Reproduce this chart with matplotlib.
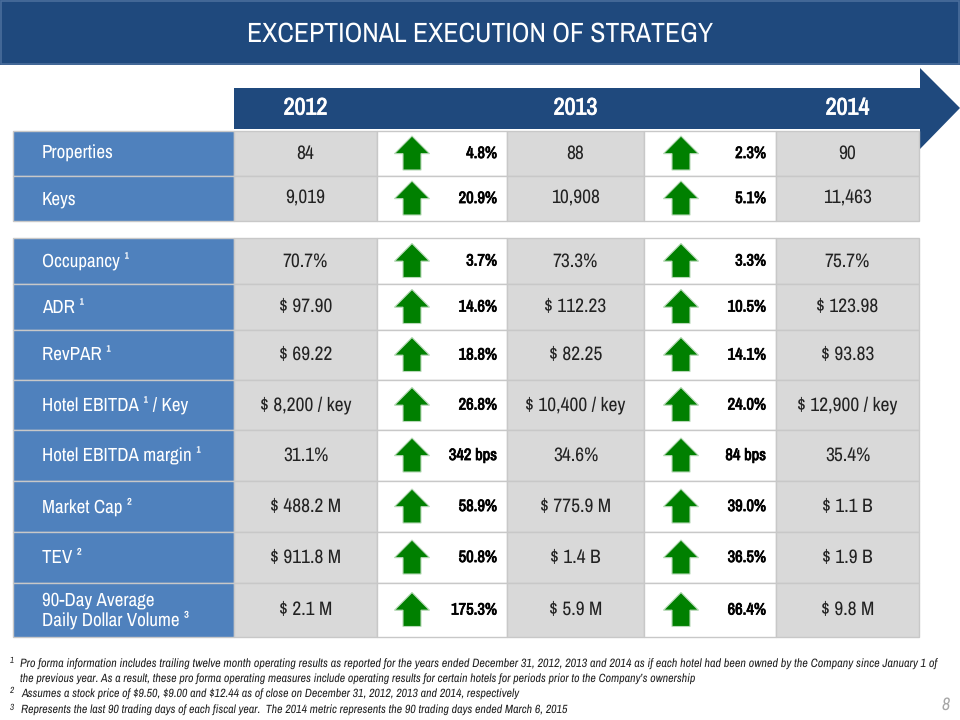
import matplotlib
matplotlib.use("Agg")
import matplotlib.pyplot as plt
import matplotlib.patheffects as pe
from matplotlib import font_manager
from matplotlib.patches import Rectangle, Polygon

names = {f.name for f in font_manager.fontManager.ttflist}
has_narrow = "Archivo Narrow" in names
scale = 1.0 if has_narrow else 0.82
plt.rcParams['font.family'] = ['Archivo Narrow', 'Liberation Sans', 'DejaVu Sans'] if has_narrow else ['Liberation Sans', 'DejaVu Sans']
plt.rcParams['text.hinting'] = 'no_hinting'
plt.rcParams['text.hinting_factor'] = 1

title = "EXCEPTIONAL EXECUTION OF STRATEGY"
years = ["2012", "2013", "2014"]
labels = ["Properties", "Keys", "Occupancy ¹", "ADR ¹", "RevPAR ¹", "Hotel EBITDA ¹ / Key",
          "Hotel EBITDA margin ¹", "Market Cap ²", "TEV ²", "90-Day Average\nDaily Dollar Volume ³"]
v2012 = ["84", "9,019", "70.7%", "$ 97.90", "$ 69.22", "$ 8,200 / key", "31.1%", "$ 488.2 M", "$ 911.8 M", "$ 2.1 M"]
v2013 = ["88", "10,908", "73.3%", "$ 112.23", "$ 82.25", "$ 10,400 / key", "34.6%", "$ 775.9 M", "$ 1.4 B", "$ 5.9 M"]
v2014 = ["90", "11,463", "75.7%", "$ 123.98", "$ 93.83", "$ 12,900 / key", "35.4%", "$ 1.1 B", "$ 1.9 B", "$ 9.8 M"]
chg_13 = ["4.8%", "20.9%", "3.7%", "14.6%", "18.8%", "26.8%", "342 bps", "58.9%", "50.8%", "175.3%"]
chg_14 = ["2.3%", "5.1%", "3.3%", "10.5%", "14.1%", "24.0%", "84 bps", "39.0%", "36.5%", "66.4%"]
notes = [
    ("1", "Pro forma information includes trailing twelve month operating results as reported for the years ended December 31, 2012, 2013 and 2014 as if each hotel had been owned by the Company since January 1 of"),
    ("", "the previous year. As a result, these pro forma operating measures include operating results for certain hotels for periods prior to the Company’s ownership"),
    ("2", "Assumes a stock price of $9.50, $9.00 and $12.44 as of close on December 31, 2012, 2013 and 2014, respectively"),
    ("3", "Represents the last 90 trading days of each fiscal year.  The 2014 metric represents the 90 trading days ended March 6, 2015"),
]

# layout, in pixels of the slide
row_tops = [131, 176, 238, 284, 330, 380, 430, 481, 532, 583]
row_bots = [176, 221, 284, 330, 380, 430, 481, 532, 583, 637]
col_x = [13, 234, 377, 507, 644, 776, 919]
note_y = [664, 679, 694, 710]
note_x = [20, 20, 21, 21]
note_size = [12.15, 11.95, 11.95, 11.95]

NAVY = "#1F497D"
BLUE = "#4F81BD"
GRAY = "#D9D9D9"
GRID = "#C8C8C8"
GREEN = "#008000"

fig = plt.figure(figsize=(9.6, 7.2), dpi=100)
ax = fig.add_axes([0, 0, 1, 1])
ax.set_xlim(0, 960)
ax.set_ylim(720, 0)
ax.axis("off")


def px(size):
    return size * 0.72 * scale


def bold_text(x, y, s, color, size, ha):
    # the narrow face only ships one weight, so thicken it with a thin stroke
    t = ax.text(x, y, s, color=color, fontsize=px(size), fontweight="bold", ha=ha, va="center", zorder=5)
    if has_narrow:
        t.set_path_effects([pe.withStroke(linewidth=0.55, foreground=color)])
    return t


def up_arrow(cx, top, bot):
    mid = top + (bot - top) * 0.52
    ax.add_patch(Polygon([(cx, top), (cx + 17.5, mid), (cx + 9, mid), (cx + 9, bot),
                          (cx - 9, bot), (cx - 9, mid), (cx - 17.5, mid)],
                         closed=True, fc=GREEN, ec="#B7D9B7", lw=0.8, zorder=4))


# title band
ax.add_patch(Rectangle((0, 0), 960, 65, fc=NAVY, ec="none"))
ax.add_patch(Rectangle((1, 1), 958, 63, fc="none", ec="#4A6E9C", lw=1.2))
ax.text(480, 34, title, color="white", fontsize=px(27.8), ha="center", va="center")

# year arrow
ax.add_patch(Polygon([(234, 88), (920, 88), (920, 68), (960, 108), (920, 149), (920, 129), (234, 129)],
                     closed=True, fc=NAVY, ec="none", zorder=1))
for x, y in zip([305.5, 575.5, 847.5], years):
    bold_text(x, 108, y, "white", 24, "center")

# table rows
for i, lab in enumerate(labels):
    t, b = row_tops[i], row_bots[i]
    fills = [BLUE, GRAY, "white", GRAY, "white", GRAY]
    for j, c in enumerate(fills):
        ax.add_patch(Rectangle((col_x[j], t), col_x[j + 1] - col_x[j], b - t, fc=c, ec=GRID, lw=1.0, zorder=2))
    cy = (t + b) / 2
    ax.text(42, cy + 0.5, lab, color="white", fontsize=px(19), ha="left", va="center", zorder=5, linespacing=1.15)
    for x, v in zip([305.5, 575.5, 847.5], [v2012[i], v2013[i], v2014[i]]):
        ax.text(x, cy, v, color="#222222", fontsize=px(19.5), ha="center", va="center", zorder=5)
    for cx, r, v in zip([412, 681], [497, 766], [chg_13[i], chg_14[i]]):
        up_arrow(cx, cy - 17.5, cy + 16.5)
        bold_text(r, cy, v, "black", 16.5, "right")

# footnotes
for (mark, txt), x, y, s in zip(notes, note_x, note_y, note_size):
    if mark:
        ax.text(9.5, y - 3, mark, color="#222222", fontsize=px(9), style="italic", ha="left", va="center")
    ax.text(x, y, txt, color="#222222", fontsize=px(s), style="italic", ha="left", va="center")

ax.text(946, 705, "8", color="#A6A6A6", fontsize=px(18), style="italic", ha="center", va="center")

fig.savefig("out.png", dpi=100)
